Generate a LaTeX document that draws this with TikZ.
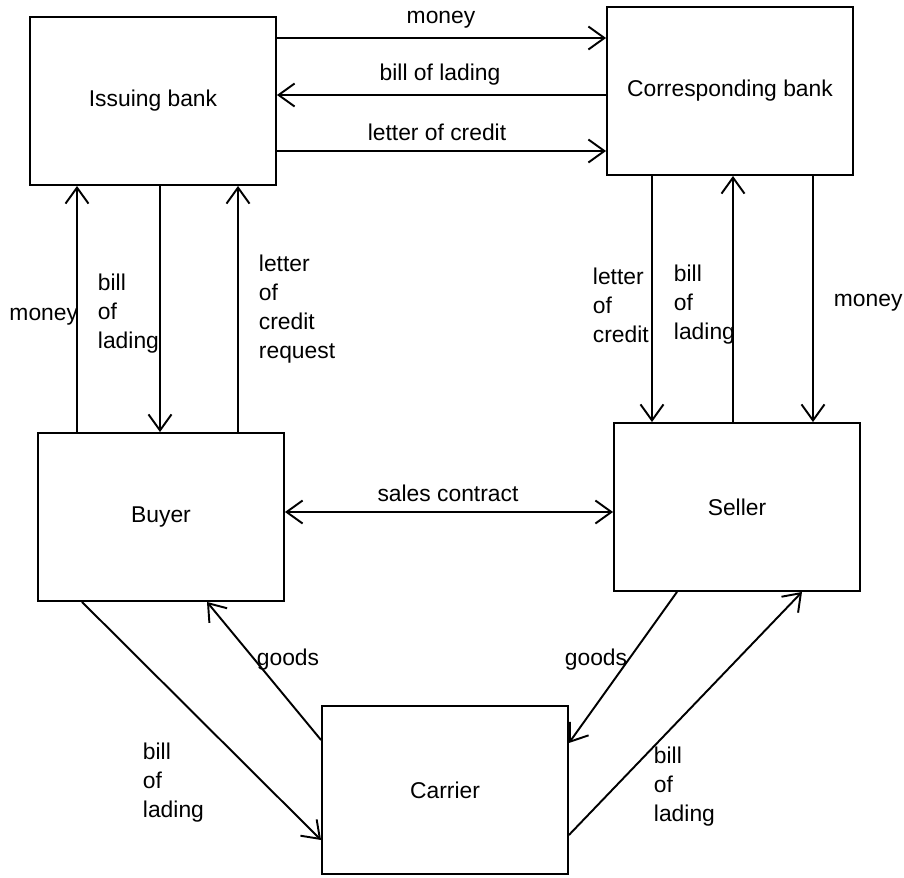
\documentclass[tikz,border=0pt]{standalone}
\usepackage{fontspec}
\setmainfont{Liberation Sans}
\usetikzlibrary{arrows.meta}

\begin{document}
\begin{tikzpicture}
      [x=0.02cm, y=-0.02cm, line width=1.1pt,
       >={Straight Barb[length=0.32cm, width=0.46cm]},
       every node/.style={font=\fontsize{13}{16.5}\selectfont},
       party/.style={draw, minimum width=4.92cm, minimum height=3.36cm, inner sep=0pt},
       lbl/.style={align=left, inner sep=0pt}]
      \useasboundingbox (0,0) rectangle (904,877);

      \node [party] (ib) at (153,101) {Issuing bank};
      \node [party] (cb) at (730,91) {Corresponding bank};
      \node [party] (bu) at (161,517) {Buyer};
      \node [party] (se) at (737,507) {Seller};
      \node [party] (ca) at (445,790) {Carrier};

      % bank to bank
      \draw [->] (ib.east |- 0,38) -- (cb.west |- 0,38);
      \draw [->] (cb.west |- 0,95) -- (ib.east |- 0,95);
      \draw [->] (ib.east |- 0,151) -- (cb.west |- 0,151);
      \node [lbl] (m1) at (441,20) {money};
      \node [lbl] (b1) at (440,75) {bill of lading};
      \node [lbl] (l1) at (437,132) {letter of credit};

      % banks to buyer and seller
      \foreach \a/\b/\x in {bu.north/ib.south/77, ib.south/bu.north/160, bu.north/ib.south/238,
                            cb.south/se.north/652, se.north/cb.south/733, cb.south/se.north/813}
      \draw [->] (\a -| \x,0) -- (\b -| \x,0);
      \node [lbl, anchor=east] (m2) at (79,317) {money};
      \node [lbl, anchor=west] (b2) at (97,314) {bill\\of\\lading};
      \node [lbl, anchor=west] (l2) at (258,309) {letter\\of\\credit\\request};
      \node [lbl, anchor=west] (l3) at (592,305) {letter\\of\\credit};
      \node [lbl, anchor=west] (b3) at (673,305) {bill\\of\\lading};
      \node [lbl, anchor=west] (m3) at (833,303) {money};

      \draw [<->] (bu.east |- 0,512) -- (se.west |- 0,512);
      \node [lbl] (sc) at (448,493) {sales contract};

      % carrier
      \draw [->] (bu.south -| 82,0) -- (ca.west |- 0,840);
      \draw [->] (ca.west |- 0,740) -- (bu.south -| 207,0);
      \draw [->] (se.south -| 677,0) -- (ca.east |- 0,743);
      \draw [->] (ca.east |- 0,835) -- (se.south -| 802,0);
      \node [lbl] (g1) at (288,660) {goods};
      \node [lbl] (g2) at (596,660) {goods};
      \node [lbl, anchor=west] (b4) at (142,783) {bill\\of\\lading};
      \node [lbl, anchor=west] (b5) at (653,787) {bill\\of\\lading};
    \end{tikzpicture}
\end{document}
